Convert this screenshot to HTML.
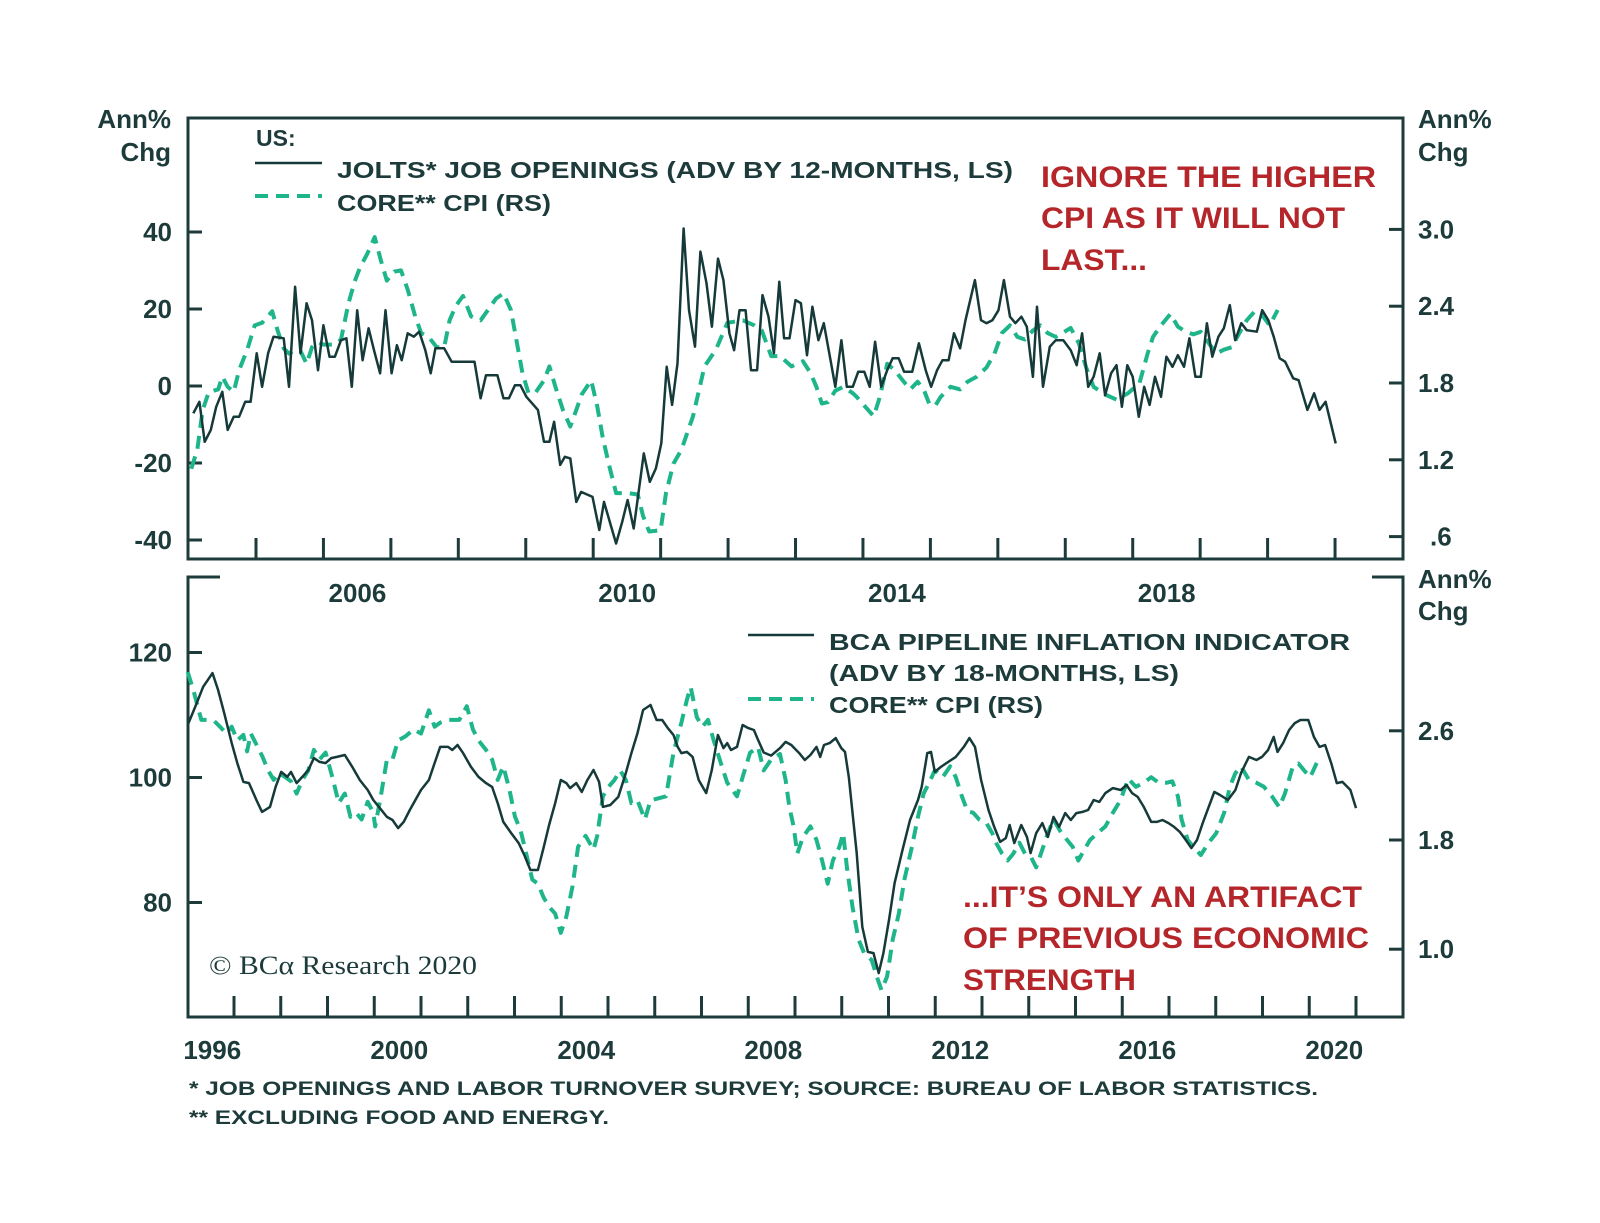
<!DOCTYPE html>
<html><head><meta charset="utf-8"><style>
html,body{margin:0;padding:0;background:#fff;}
svg{display:block;font-family:"Liberation Sans",sans-serif;}
.ax{font-weight:bold;font-size:26px;fill:#1d3b3b;}
.lg{font-weight:bold;font-size:23px;fill:#1d3b3b;}
.red{font-weight:bold;font-size:30px;fill:#b5262b;}
.fn{font-weight:bold;font-size:19px;fill:#1d3b3b;}
</style></head><body>
<svg id="chart" width="1600" height="1223" viewBox="0 0 1600 1223" xmlns="http://www.w3.org/2000/svg">
<rect width="1600" height="1223" fill="#fff"/>
<g id="top">
<path d="M188 118 H1403 V559 H188 Z" fill="none" stroke="#1d3b3b" stroke-width="3"/>
<text class="ax" x="171" y="128" text-anchor="end">Ann%</text>
<text class="ax" x="171" y="161" text-anchor="end">Chg</text>
<text class="ax" x="1418" y="128">Ann%</text>
<text class="ax" x="1418" y="161">Chg</text>
<text class="lg" x="256" y="146">US:</text>
<line x1="255" y1="163" x2="322" y2="163" stroke="#163a3a" stroke-width="2.5"/>
<line x1="255" y1="196" x2="322" y2="196" stroke="#1fb58a" stroke-width="4" stroke-dasharray="13 8"/>
<text class="lg" x="337" y="178" textLength="676" lengthAdjust="spacingAndGlyphs">JOLTS* JOB OPENINGS (ADV BY 12-MONTHS, LS)</text>
<text class="lg" x="337" y="211" textLength="214" lengthAdjust="spacingAndGlyphs">CORE** CPI (RS)</text>
<text class="red" x="1041" y="187" textLength="335" lengthAdjust="spacingAndGlyphs">IGNORE THE HIGHER</text>
<text class="red" x="1041" y="228" textLength="304" lengthAdjust="spacingAndGlyphs">CPI AS IT WILL NOT</text>
<text class="red" x="1041" y="270" textLength="106" lengthAdjust="spacingAndGlyphs">LAST...</text>
</g>
<g id="bot">
<path d="M220 577 H188 V1017 H1403 V577 H1372" fill="none" stroke="#1d3b3b" stroke-width="3"/>
<text class="ax" x="1418" y="588">Ann%</text>
<text class="ax" x="1418" y="620">Chg</text>
<line x1="748" y1="635" x2="814" y2="635" stroke="#163a3a" stroke-width="2.5"/>
<line x1="748" y1="699" x2="814" y2="699" stroke="#1fb58a" stroke-width="4" stroke-dasharray="13 8"/>
<text class="lg" x="829" y="650" textLength="521" lengthAdjust="spacingAndGlyphs">BCA PIPELINE INFLATION INDICATOR</text>
<text class="lg" x="829" y="681" textLength="350" lengthAdjust="spacingAndGlyphs">(ADV BY 18-MONTHS, LS)</text>
<text class="lg" x="829" y="713" textLength="214" lengthAdjust="spacingAndGlyphs">CORE** CPI (RS)</text>
<text class="red" x="963" y="907" textLength="399" lengthAdjust="spacingAndGlyphs">...IT’S ONLY AN ARTIFACT</text>
<text class="red" x="963" y="948" textLength="406" lengthAdjust="spacingAndGlyphs">OF PREVIOUS ECONOMIC</text>
<text class="red" x="963" y="990" textLength="173" lengthAdjust="spacingAndGlyphs">STRENGTH</text>
<text x="209" y="974" font-family="Liberation Serif, serif" font-size="26" fill="#1d3b3b" textLength="268" lengthAdjust="spacingAndGlyphs">© BCα Research 2020</text>
</g>
<text class="fn" x="189" y="1095" textLength="1129" lengthAdjust="spacingAndGlyphs">*  JOB OPENINGS AND LABOR TURNOVER SURVEY; SOURCE: BUREAU OF LABOR STATISTICS.</text>
<text class="fn" x="189" y="1124" textLength="420" lengthAdjust="spacingAndGlyphs">** EXCLUDING FOOD AND ENERGY.</text>
</svg>
<script>
// ---- Top panel data ----
const joltsDates=[2004.07,2004.16,2004.24,2004.33,2004.41,2004.50,2004.58,2004.67,2004.75,2004.84,2004.92,2005.01,2005.09,2005.18,2005.26,2005.41,2005.49,2005.58,2005.66,2005.75,2005.83,2005.92,2006.00,2006.09,2006.17,2006.26,2006.34,2006.42,2006.50,2006.58,2006.67,2006.75,2006.84,2006.92,2007.01,2007.09,2007.16,2007.25,2007.34,2007.42,2007.51,2007.59,2007.66,2007.79,2007.90,2008.24,2008.33,2008.41,2008.58,2008.67,2008.75,2008.84,2008.92,2009.01,2009.18,2009.27,2009.35,2009.42,2009.51,2009.58,2009.66,2009.75,2009.82,2009.99,2010.09,2010.16,2010.26,2010.34,2010.43,2010.51,2010.60,2010.75,2010.84,2010.93,2011.01,2011.09,2011.17,2011.25,2011.34,2011.42,2011.51,2011.59,2011.68,2011.76,2011.85,2011.93,2012.02,2012.09,2012.17,2012.26,2012.34,2012.43,2012.51,2012.60,2012.68,2012.76,2012.83,2012.91,2013.00,2013.08,2013.17,2013.25,2013.34,2013.42,2013.51,2013.59,2013.68,2013.76,2013.85,2013.93,2014.02,2014.10,2014.18,2014.27,2014.36,2014.44,2014.53,2014.61,2014.73,2014.83,2014.93,2015.01,2015.10,2015.18,2015.27,2015.35,2015.44,2015.52,2015.66,2015.75,2015.83,2015.92,2016.01,2016.09,2016.18,2016.26,2016.35,2016.43,2016.52,2016.58,2016.67,2016.77,2016.86,2016.97,2017.08,2017.17,2017.25,2017.34,2017.42,2017.51,2017.59,2017.68,2017.76,2017.84,2017.92,2018.00,2018.09,2018.17,2018.25,2018.33,2018.42,2018.50,2018.59,2018.67,2018.76,2018.84,2018.93,2019.01,2019.10,2019.18,2019.27,2019.35,2019.44,2019.52,2019.61,2019.69,2019.84,2019.92,2020.01,2020.09,2020.18,2020.26,2020.38,2020.46,2020.59,2020.69,2020.77,2020.86,2021.01];
const joltsValues=[-7.1,-4.1,-14.5,-11.4,-5.4,-1.5,-11.4,-8.0,-8.0,-4.1,-4.1,8.5,-0.2,8.5,12.8,12.4,-0.2,25.8,8.5,21.5,17.1,4.1,15.8,7.6,7.6,11.9,12.4,-0.2,19.7,6.7,15.0,9.3,3.3,19.7,3.3,10.6,6.7,13.7,12.8,14.1,9.3,3.3,9.8,9.8,6.3,6.3,-3.2,2.8,2.8,-3.2,-3.2,0.2,0.2,-2.8,-6.2,-14.5,-14.5,-9.3,-20.5,-18.4,-18.8,-30.1,-27.5,-28.8,-37.4,-30.1,-36.1,-40.9,-35.3,-29.6,-37.0,-17.5,-24.9,-21.4,-14.9,5.0,-4.9,5.9,40.9,19.7,10.2,34.9,26.7,15.4,33.1,27.5,13.7,9.3,19.7,19.7,4.1,4.1,23.6,18.0,8.5,27.1,12.4,12.4,22.3,21.5,8.0,20.6,11.9,16.3,7.6,-0.2,11.9,-0.2,-0.2,3.7,3.7,-0.2,11.5,-0.2,4.1,7.2,7.2,3.7,3.7,11.1,4.1,-0.2,4.1,6.7,6.7,13.7,9.8,17.1,27.5,17.1,16.3,17.1,19.7,27.5,18.0,16.3,18.0,15.4,2.4,20.6,-0.2,10.2,11.9,11.9,9.3,5.4,13.7,-0.2,2.4,8.5,-2.4,3.3,5.4,-5.4,5.4,2.4,-8.0,-0.2,-4.9,2.4,-2.8,7.6,5.0,8.0,5.0,12.4,2.4,2.4,16.3,7.6,12.8,15.0,21.0,11.9,16.3,14.5,14.1,19.7,17.1,12.8,7.2,6.3,2.0,1.5,-6.2,-1.9,-6.2,-4.1,-14.9];
const cpiTopDates=[2004.04,2004.13,2004.21,2004.30,2004.44,2004.50,2004.58,2004.67,2004.75,2004.87,2004.98,2005.09,2005.24,2005.32,2005.41,2005.49,2005.58,2005.66,2005.75,2005.83,2005.92,2006.00,2006.17,2006.26,2006.37,2006.46,2006.54,2006.65,2006.76,2006.85,2006.94,2007.05,2007.15,2007.25,2007.36,2007.45,2007.56,2007.68,2007.79,2007.87,2007.96,2008.07,2008.19,2008.33,2008.44,2008.56,2008.67,2008.78,2008.87,2008.95,2009.04,2009.15,2009.27,2009.35,2009.44,2009.55,2009.66,2009.75,2009.83,2009.97,2010.06,2010.14,2010.23,2010.34,2010.51,2010.66,2010.74,2010.83,2011.00,2011.08,2011.19,2011.31,2011.48,2011.65,2011.82,2011.99,2012.22,2012.39,2012.50,2012.64,2012.77,2012.94,2013.11,2013.22,2013.31,2013.39,2013.48,2013.59,2013.71,2013.85,2013.91,2013.99,2014.16,2014.25,2014.36,2014.47,2014.59,2014.70,2014.81,2014.90,2014.98,2015.07,2015.15,2015.30,2015.44,2015.55,2015.69,2015.83,2015.95,2016.06,2016.18,2016.29,2016.40,2016.52,2016.63,2016.74,2016.86,2017.08,2017.20,2017.31,2017.42,2017.59,2017.76,2017.93,2018.10,2018.22,2018.30,2018.42,2018.56,2018.67,2018.79,2018.90,2019.01,2019.13,2019.24,2019.35,2019.47,2019.58,2019.69,2019.81,2019.92,2020.03,2020.15];
const cpiTopValues=[1.13,1.28,1.59,1.73,1.75,1.85,1.77,1.73,1.90,2.06,2.25,2.27,2.36,2.21,2.07,2.03,2.06,2.05,1.95,2.08,2.12,2.10,2.10,2.14,2.42,2.59,2.70,2.81,2.94,2.76,2.60,2.67,2.68,2.53,2.32,2.19,2.16,2.08,2.08,2.29,2.40,2.48,2.32,2.29,2.37,2.46,2.50,2.37,2.11,1.88,1.72,1.73,1.82,1.93,1.77,1.59,1.46,1.59,1.71,1.82,1.62,1.38,1.17,0.94,0.94,0.93,0.76,0.64,0.65,0.94,1.17,1.28,1.54,1.93,2.06,2.27,2.29,2.25,2.21,2.01,2.01,1.93,1.97,1.88,1.77,1.64,1.65,1.74,1.77,1.72,1.69,1.64,1.54,1.69,1.95,1.90,1.82,1.75,1.81,1.75,1.64,1.62,1.69,1.77,1.75,1.81,1.85,1.92,2.03,2.19,2.25,2.16,2.14,2.21,2.25,2.19,2.16,2.23,2.11,1.92,1.77,1.71,1.67,1.72,1.80,2.03,2.16,2.25,2.34,2.24,2.20,2.18,2.20,2.11,2.03,2.06,2.08,2.19,2.29,2.36,2.33,2.25,2.37];
const topLeftTicks=[40,20,0,-20,-40];
const topRightTicks=["3.0","2.4","1.8","1.2",".6"];
const topYearLabels=[2006,2010,2014,2018];
// ---- Bottom panel data ----
const pipeDates=[1996.01,1996.17,1996.34,1996.54,1996.66,1996.79,1996.95,1997.07,1997.20,1997.32,1997.48,1997.60,1997.77,1997.89,1998.01,1998.14,1998.22,1998.34,1998.46,1998.59,1998.71,1998.83,1998.96,1999.08,1999.20,1999.37,1999.53,1999.69,1999.86,1999.98,2000.10,2000.27,2000.39,2000.51,2000.63,2000.76,2000.88,2001.00,2001.17,2001.29,2001.41,2001.58,2001.67,2001.78,2001.90,2002.07,2002.23,2002.39,2002.52,2002.64,2002.76,2002.93,2003.09,2003.21,2003.34,2003.50,2003.62,2003.74,2003.87,2003.99,2004.11,2004.19,2004.32,2004.44,2004.56,2004.69,2004.81,2004.89,2005.05,2005.22,2005.38,2005.50,2005.63,2005.75,2005.91,2006.04,2006.16,2006.28,2006.40,2006.49,2006.57,2006.69,2006.81,2006.94,2007.10,2007.22,2007.35,2007.47,2007.55,2007.63,2007.76,2007.88,2008.00,2008.12,2008.21,2008.33,2008.49,2008.68,2008.80,2008.92,2009.09,2009.21,2009.33,2009.46,2009.54,2009.62,2009.74,2009.87,2009.99,2010.07,2010.15,2010.32,2010.44,2010.56,2010.68,2010.79,2010.89,2011.01,2011.13,2011.30,2011.46,2011.63,2011.71,2011.83,2011.91,2011.99,2012.12,2012.28,2012.44,2012.61,2012.73,2012.85,2012.98,2013.14,2013.26,2013.39,2013.51,2013.59,2013.69,2013.84,2013.96,2014.04,2014.16,2014.29,2014.41,2014.53,2014.65,2014.78,2014.90,2015.02,2015.15,2015.27,2015.39,2015.51,2015.64,2015.80,2015.97,2016.09,2016.21,2016.33,2016.46,2016.62,2016.74,2016.86,2016.99,2017.11,2017.23,2017.36,2017.48,2017.60,2017.72,2017.85,2017.97,2018.09,2018.26,2018.42,2018.54,2018.71,2018.87,2018.99,2019.12,2019.24,2019.32,2019.44,2019.57,2019.69,2019.81,2019.98,2020.10,2020.22,2020.34,2020.47,2020.59,2020.71,2020.88,2021.00];
const pipeValues=[108.4,111.3,114.5,116.7,114.0,110.3,105.5,102.3,99.3,99.1,96.4,94.5,95.3,98.5,100.9,100.1,100.9,99.1,100.1,101.2,103.1,102.5,102.3,103.1,103.3,103.6,101.7,99.6,98.0,96.4,95.3,93.7,93.2,91.9,92.9,94.8,96.4,98.0,99.6,102.3,104.9,104.9,104.4,105.2,103.9,101.7,100.1,99.1,98.5,95.9,92.9,91.1,89.5,87.6,85.2,85.2,88.7,92.4,95.9,99.6,99.1,98.3,99.1,97.7,99.6,101.2,99.3,95.3,95.6,96.9,100.7,103.9,107.1,110.8,111.6,109.2,109.2,107.9,106.8,104.9,103.9,104.1,103.3,99.6,97.5,101.2,106.8,104.7,105.5,104.4,104.9,108.4,107.9,107.6,106.0,104.0,103.5,104.7,105.7,105.2,103.9,102.8,103.6,104.9,103.3,105.2,105.5,106.3,104.7,104.1,100.1,87.9,76.1,72.1,71.9,68.7,71.9,77.2,83.1,88.4,93.2,96.4,98.5,103.9,104.1,100.9,101.7,102.5,103.3,104.9,106.3,104.9,99.6,94.8,92.1,89.7,90.3,92.4,89.5,92.4,90.5,87.9,91.1,92.7,90.5,93.7,92.1,94.3,93.2,94.3,94.5,94.8,96.4,96.1,97.5,98.3,98.0,98.8,97.5,96.9,95.3,92.9,92.9,93.2,92.7,92.1,91.3,90.0,88.7,90.0,92.7,95.3,97.7,97.2,96.4,98.0,100.7,103.3,102.8,103.3,104.4,106.5,104.1,105.5,107.6,108.7,109.2,109.2,106.5,104.9,105.2,102.3,99.1,99.3,98.0,95.1];
const cpiBotDates=[1996.01,1996.13,1996.30,1996.42,1996.58,1996.70,1996.83,1996.95,1997.07,1997.20,1997.28,1997.36,1997.48,1997.61,1997.73,1997.85,1997.97,1998.10,1998.22,1998.34,1998.46,1998.59,1998.71,1998.83,1998.96,1999.12,1999.24,1999.37,1999.49,1999.61,1999.73,1999.86,1999.98,2000.02,2000.14,2000.27,2000.39,2000.51,2000.67,2000.84,2001.00,2001.17,2001.29,2001.41,2001.58,2001.82,2001.98,2002.11,2002.23,2002.39,2002.52,2002.64,2002.76,2002.89,2003.01,2003.13,2003.25,2003.38,2003.50,2003.62,2003.74,2003.87,2003.99,2004.11,2004.24,2004.36,2004.52,2004.69,2004.77,2004.89,2005.01,2005.14,2005.26,2005.38,2005.50,2005.63,2005.79,2005.91,2006.24,2006.40,2006.57,2006.69,2006.77,2006.90,2007.02,2007.14,2007.26,2007.39,2007.55,2007.76,2007.88,2008.04,2008.21,2008.33,2008.49,2008.68,2008.80,2008.88,2008.97,2009.05,2009.17,2009.33,2009.46,2009.58,2009.70,2009.81,2009.95,2010.03,2010.11,2010.23,2010.36,2010.48,2010.64,2010.77,2010.85,2010.97,2011.09,2011.22,2011.34,2011.50,2011.63,2011.75,2011.87,2011.99,2012.16,2012.32,2012.44,2012.57,2012.69,2012.81,2012.94,2013.10,2013.22,2013.30,2013.43,2013.55,2013.67,2013.80,2013.92,2014.04,2014.16,2014.29,2014.41,2014.53,2014.70,2014.82,2014.94,2015.06,2015.19,2015.31,2015.47,2015.64,2015.80,2015.96,2016.13,2016.29,2016.46,2016.62,2016.78,2016.95,2017.07,2017.19,2017.27,2017.40,2017.52,2017.68,2017.85,2018.01,2018.18,2018.30,2018.42,2018.54,2018.71,2018.87,2019.03,2019.20,2019.36,2019.48,2019.65,2019.77,2019.89,2020.02,2020.18];
const cpiBotValues=[3.03,2.90,2.68,2.68,2.67,2.63,2.58,2.63,2.53,2.57,2.45,2.58,2.50,2.41,2.31,2.24,2.29,2.26,2.23,2.14,2.24,2.31,2.46,2.39,2.44,2.24,2.07,2.14,1.97,2.00,1.95,2.08,2.00,1.90,2.12,2.39,2.39,2.53,2.56,2.61,2.58,2.75,2.63,2.66,2.68,2.68,2.78,2.61,2.53,2.46,2.39,2.24,2.34,2.17,1.97,1.87,1.70,1.51,1.48,1.38,1.31,1.26,1.12,1.24,1.46,1.75,1.83,1.73,1.83,2.12,2.19,2.24,2.31,2.24,2.07,2.09,1.95,2.09,2.12,2.44,2.66,2.83,2.92,2.70,2.63,2.68,2.53,2.39,2.22,2.12,2.26,2.44,2.48,2.31,2.39,2.43,2.24,2.04,1.90,1.70,1.82,1.90,1.80,1.65,1.48,1.65,1.75,1.85,1.60,1.31,1.07,0.97,0.92,0.78,0.70,0.80,1.07,1.26,1.51,1.75,1.97,2.14,2.22,2.31,2.26,2.34,2.26,2.12,2.01,2.00,1.95,1.92,1.85,1.78,1.70,1.65,1.70,1.78,1.70,1.68,1.60,1.73,1.85,1.95,1.85,1.80,1.75,1.65,1.73,1.80,1.85,1.90,2.00,2.09,2.25,2.19,2.22,2.26,2.22,2.22,2.23,2.12,1.95,1.80,1.75,1.69,1.78,1.85,2.00,2.19,2.29,2.34,2.24,2.22,2.19,2.12,2.04,2.14,2.34,2.36,2.31,2.26,2.38];
const botLeftTicks=[120,100,80];
const botRightTicks=["2.6","1.8","1.0"];
const botYearLabels=[1996,2000,2004,2008,2012,2016,2020];

const NS="http://www.w3.org/2000/svg";
const svg=document.getElementById('chart');
// axis functions
const xTop=t=>256+(t-2005)*67.44;
const yTopL=v=>386-v*3.85;
const yTopR=v=>383-(v-1.8)*128;
const xBot=t=>234+(t-1997)*46.75;
const yBotL=v=>777.5-(v-100)*6.25;
const yBotR=v=>840-(v-1.8)*136.5;

function mk(tag,attrs,parent){const e=document.createElementNS(NS,tag);for(const k in attrs)e.setAttribute(k,attrs[k]);(parent||svg).appendChild(e);return e;}
function pathD(ds,vs,fx,fy){return ds.map((d,i)=>(i?'L':'M')+fx(d).toFixed(1)+' '+fy(vs[i]).toFixed(1)).join(' ');}

// top ticks
topLeftTicks.forEach(v=>{
  const l=mk('line',{x1:188,x2:202,y1:yTopL(v),y2:yTopL(v),stroke:'#1d3b3b','stroke-width':3});
  
  
  const t=mk('text',{x:172,y:yTopL(v)+9,'text-anchor':'end',class:'ax'});t.textContent=v;
  
  
});
topRightTicks.forEach(s=>{
  const v=parseFloat(s);
  const l=mk('line',{x1:1389,x2:1403,y1:yTopR(v),y2:yTopR(v),stroke:'#1d3b3b','stroke-width':3});
  
  
  const t=mk('text',{x:s.startsWith('.')?1430:1418,y:yTopR(v)+9,class:'ax'});t.textContent=s;
  
  
});
for(let y=2005;y<=2021;y++){
  const l=mk('line',{x1:xTop(y),x2:xTop(y),y1:559,y2:538,stroke:'#1d3b3b','stroke-width':3});
  
  
}
topYearLabels.forEach(y=>{
  const t=mk('text',{x:xTop(y)+34,y:602,'text-anchor':'middle',class:'ax'});t.textContent=y;
  
  
});
// bottom ticks
botLeftTicks.forEach(v=>{
  const l=mk('line',{x1:188,x2:202,y1:yBotL(v),y2:yBotL(v),stroke:'#1d3b3b','stroke-width':3});
  
  
  const t=mk('text',{x:172,y:yBotL(v)+9,'text-anchor':'end',class:'ax'});t.textContent=v;
  
  
});
botRightTicks.forEach(s=>{
  const v=parseFloat(s);
  const l=mk('line',{x1:1389,x2:1403,y1:yBotR(v),y2:yBotR(v),stroke:'#1d3b3b','stroke-width':3});
  
  
  const t=mk('text',{x:1418,y:yBotR(v)+9,class:'ax'});t.textContent=s;
  
  
});
for(let y=1997;y<=2021;y++){
  const l=mk('line',{x1:xBot(y),x2:xBot(y),y1:1017,y2:996,stroke:'#1d3b3b','stroke-width':3});
  
  
}
botYearLabels.forEach(y=>{
  const t=mk('text',{x:xBot(y)+25,y:1059,'text-anchor':'middle',class:'ax'});t.textContent=y;
  
  
});
// series
const s1=mk('path',{d:pathD(cpiTopDates,cpiTopValues,xTop,yTopR),fill:'none',stroke:'#1fb58a','stroke-width':4,'stroke-dasharray':'13 8','stroke-linejoin':'round'});


const s2=mk('path',{d:pathD(joltsDates,joltsValues,xTop,yTopL),fill:'none',stroke:'#163a3a','stroke-width':2.5,'stroke-linejoin':'round'});


const s3=mk('path',{d:pathD(cpiBotDates,cpiBotValues,xBot,yBotR),fill:'none',stroke:'#1fb58a','stroke-width':4,'stroke-dasharray':'13 8','stroke-linejoin':'round'});


const s4=mk('path',{d:pathD(pipeDates,pipeValues,xBot,yBotL),fill:'none',stroke:'#163a3a','stroke-width':2.5,'stroke-linejoin':'round'});


</script>
</body></html>
